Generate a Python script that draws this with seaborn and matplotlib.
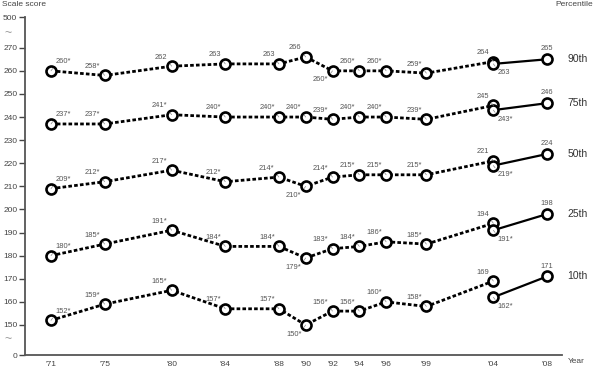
import matplotlib
matplotlib.use("Agg")
import matplotlib.pyplot as plt
import seaborn as sns
import pandas as pd

# ---- data ----
years_old = [1971, 1975, 1980, 1984, 1988, 1990, 1992, 1994, 1996, 1999, 2004]
years_new = [2004, 2008]
year_labels = ["'71", "'75", "'80", "'84", "'88", "'90", "'92", "'94", "'96", "'99", "'04", "'08"]
tick_years = years_old + [2008]

percentiles = ["90th", "75th", "50th", "25th", "10th"]
old_scores = {
    "90th": [260, 258, 262, 263, 263, 266, 260, 260, 260, 259, 264],
    "75th": [237, 237, 241, 240, 240, 240, 239, 240, 240, 239, 245],
    "50th": [209, 212, 217, 212, 214, 210, 214, 215, 215, 215, 221],
    "25th": [180, 185, 191, 184, 184, 179, 183, 184, 186, 185, 194],
    "10th": [152, 159, 165, 157, 157, 150, 156, 156, 160, 158, 169],
}
old_sig = {
    "90th": [1, 1, 0, 0, 0, 0, 1, 1, 1, 1, 0],
    "75th": [1, 1, 1, 1, 1, 1, 1, 1, 1, 1, 0],
    "50th": [1, 1, 1, 1, 1, 1, 1, 1, 1, 1, 0],
    "25th": [1, 1, 1, 1, 1, 1, 1, 1, 1, 1, 0],
    "10th": [1, 1, 1, 1, 1, 1, 1, 1, 1, 1, 0],
}
new_scores = {
    "90th": [263, 265],
    "75th": [243, 246],
    "50th": [219, 224],
    "25th": [191, 198],
    "10th": [162, 171],
}
new_sig = {
    "90th": [0, 0],
    "75th": [1, 0],
    "50th": [1, 0],
    "25th": [1, 0],
    "10th": [1, 0],
}
# label placement (ul, ur, bl, br, u)
old_place = {
    "90th": ["ur", "ul", "ul", "ul", "ul", "ul", "bl", "ul", "ul", "ul", "ul"],
    "75th": ["ur", "ul", "ul", "ul", "ul", "ul", "ul", "ul", "ul", "ul", "ul"],
    "50th": ["ur", "ul", "ul", "ul", "ul", "bl", "ul", "ul", "ul", "ul", "ul"],
    "25th": ["ur", "ul", "ul", "ul", "ul", "bl", "ul", "ul", "ul", "ul", "ul"],
    "10th": ["ur", "ul", "ul", "ul", "ul", "bl", "ul", "ul", "ul", "ul", "ul"],
}
new_place = ["br", "u"]

# axis break: display positions for "0" and "500"
y_low, y_high = 137.0, 283.3
ytick_vals = [y_low] + list(range(150, 271, 10)) + [y_high]
ytick_labels = ["0"] + [str(v) for v in range(150, 271, 10)] + ["500"]

# ---- build frames ----
rows_old, rows_new = [], []
for p in percentiles:
    for y, s in zip(years_old, old_scores[p]):
        rows_old.append({"pct": p, "year": y, "score": s})
    for y, s in zip(years_new, new_scores[p]):
        rows_new.append({"pct": p, "year": y, "score": s})
df_old = pd.DataFrame(rows_old)
df_new = pd.DataFrame(rows_new)

sns.set_style("white")
plt.rcParams["font.family"] = ["Liberation Sans", "DejaVu Sans"]

fig = plt.figure(figsize=(6, 3.78), dpi=100)
ax = fig.add_axes([25 / 600, 1 - 355 / 378, (562 - 25) / 600, (355 - 17) / 378])

marker_kw = dict(marker="o", markersize=7.2, markerfacecolor="white",
                 markeredgecolor="black", markeredgewidth=1.9)
sns.lineplot(data=df_old, x="year", y="score", units="pct", estimator=None,
             color="black", linewidth=2.0, linestyle=(0, (1.3, 0.8)),
             ax=ax, legend=False, zorder=3, **marker_kw)
sns.lineplot(data=df_new, x="year", y="score", units="pct", estimator=None,
             color="black", linewidth=1.6, linestyle="-",
             ax=ax, legend=False, zorder=3, **marker_kw)

place_cfg = {
    "ul": ((-3, 4), "right", "bottom", (1, 0)),
    "ur": ((3, 4), "left", "bottom", (0, 0)),
    "bl": ((-3, -4), "right", "top", (1, 1)),
    "br": ((3, -4), "left", "top", (0, 1)),
    "u": ((0, 5), "center", "bottom", None),
}
label_color = "#555555"


def annotate(x, y, txt, mode):
    off, ha, va, rel = place_cfg[mode]
    kw = dict(textcoords="offset points", xytext=off, ha=ha, va=va,
              fontsize=5.4, color=label_color, zorder=4)
    if rel is not None:
        kw["arrowprops"] = dict(arrowstyle="-", color="#888888", lw=0.5,
                                shrinkA=0, shrinkB=4, relpos=rel)
    ax.annotate(txt, xy=(x, y), **kw)


for p in percentiles:
    for y, s, sg, m in zip(years_old, old_scores[p], old_sig[p], old_place[p]):
        annotate(y, s, f"{s}*" if sg else f"{s}", m)
    for y, s, sg, m in zip(years_new, new_scores[p], new_sig[p], new_place):
        annotate(y, s, f"{s}*" if sg else f"{s}", m)
    ax.annotate(p, xy=(1, new_scores[p][-1]),
                xycoords=("axes fraction", "data"),
                xytext=(4, 0), textcoords="offset points",
                ha="left", va="center", fontsize=7.5, color="#333333",
                annotation_clip=False)

ax.set_xlim(1969.06, 2009.12)
ax.set_ylim(y_low, y_high)
ax.set_xticks(tick_years)
ax.set_xticklabels(year_labels)
ax.set_yticks(ytick_vals)
ax.set_yticklabels(ytick_labels)
ax.set_xlabel("")
ax.set_ylabel("")
ax.tick_params(axis="y", length=4, width=1, color="#444444", labelsize=6,
               labelcolor="#444444", pad=1.5, left=True)
ax.tick_params(axis="x", length=0, labelsize=6, labelcolor="#444444", pad=4)
for side in ["top", "right"]:
    ax.spines[side].set_visible(False)
for side in ["left", "bottom"]:
    ax.spines[side].set_color("#555555")
    ax.spines[side].set_linewidth(1.3)

# axis break squiggles
for yv in [(y_low + 150) / 2 + 0.5, (270 + y_high) / 2 - 0.5]:
    ax.annotate("~", xy=(0, yv), xycoords=("axes fraction", "data"),
                xytext=(-12, 0), textcoords="offset points",
                ha="center", va="center", fontsize=9, color="#999999",
                annotation_clip=False)

fig.text(2 / 600, 1 - 5 / 378, "Scale score", fontsize=6, color="#444444",
         ha="left", va="center")
fig.text(593 / 600, 1 - 5 / 378, "Percentile", fontsize=6, color="#444444",
         ha="right", va="center")
ax.annotate("Year", xy=(1, 0), xycoords="axes fraction", xytext=(4, -5),
            textcoords="offset points", ha="left", va="center", fontsize=6,
            color="#444444", annotation_clip=False)

fig.savefig("out.png", dpi=100)
